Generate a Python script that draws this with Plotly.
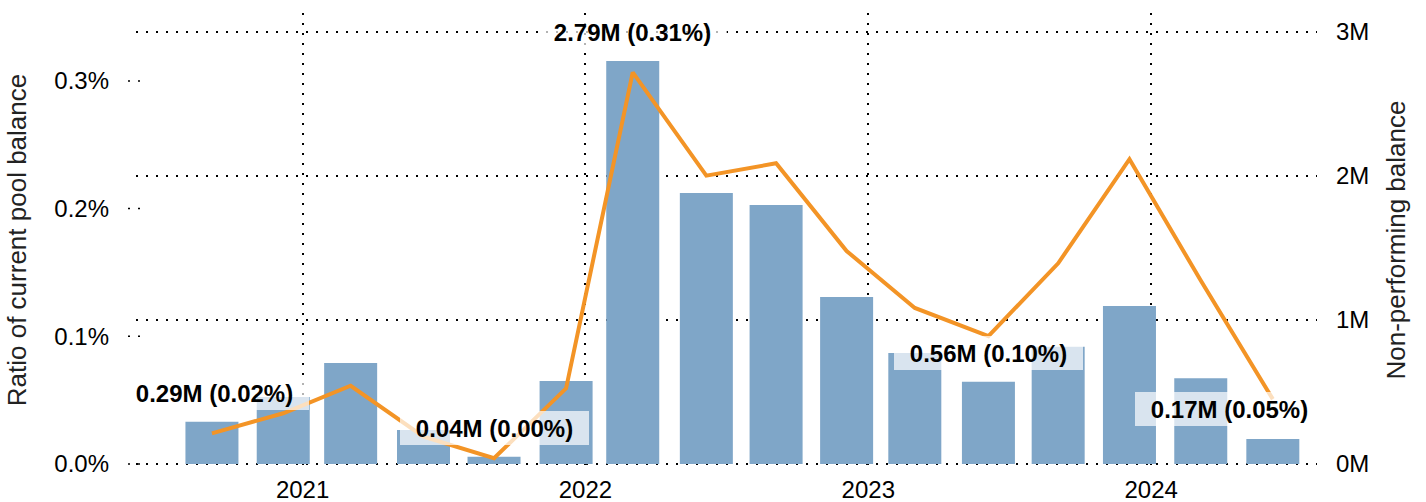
import plotly.graph_objects as go

# ---- data ----
dates = ["2020-09-06", "2020-12-07", "2021-03-04", "2021-06-06", "2021-09-05", "2021-12-07",
         "2022-03-03", "2022-06-06", "2022-09-04", "2022-12-04", "2023-03-02", "2023-06-05",
         "2023-09-03", "2023-12-04", "2024-03-05", "2024-06-06"]
ratio_pct = [0.0331, 0.0525, 0.0791, 0.0266, 0.0057, 0.0650,
             0.3156, 0.2122, 0.2028, 0.1308, 0.0870, 0.0645,
             0.0919, 0.1237, 0.0671, 0.0196]
np_balance_m = [0.213, 0.352, 0.543, 0.190, 0.040, 0.525,
                2.718, 2.001, 2.087, 1.478, 1.083, 0.888,
                1.393, 2.115, 1.273, 0.450]
label_dates = ["2020-09-06", "2021-09-05", "2022-03-03", "2023-06-05", "2024-06-06"]
label_texts = ["0.29M (0.02%)", "0.04M (0.00%)", "2.79M (0.31%)", "0.56M (0.10%)", "0.17M (0.05%)"]
left_ticks = [0.0, 0.1, 0.2, 0.3]
left_ticktext = ["0.0%", "0.1%", "0.2%", "0.3%"]
right_ticks = [0, 1, 2, 3]
right_ticktext = ["0M", "1M", "2M", "3M"]

# ---- styling / placement ----
label_y_pos = [0.493, 0.250, 3.0, 0.77, 0.382]
label_xshift = [2.5, 0, 0, 0, -43]
BAR_COLOR = "#7FA6C8"
LINE_COLOR = "#F39426"
FONT = "Liberation Sans, Arial, sans-serif"
DAY_MS = 86400000
DOT = "2px,8px"

fig = go.Figure()
fig.add_trace(go.Bar(
    x=dates, y=ratio_pct, marker=dict(color=BAR_COLOR, line=dict(width=0)),
    width=[68.4 * DAY_MS] * len(dates), yaxis="y", name="Ratio"))
fig.add_trace(go.Scatter(
    x=dates, y=np_balance_m, mode="lines", yaxis="y2",
    line=dict(color=LINE_COLOR, width=4), name="Non-performing balance"))

for d, t, yp, xs in zip(label_dates, label_texts, label_y_pos, label_xshift):
    fig.add_annotation(
        x=d, y=yp, xref="x", yref="y2", text="<b>%s</b>" % t, showarrow=False,
        xshift=xs, font=dict(family=FONT, size=24, color="black"),
        bgcolor="rgba(255,255,255,0.7)", borderpad=0, borderwidth=0,
        width=189, height=34, align="center", valign="middle")

# dotted tick stubs of the left axis
for v in left_ticks:
    fig.add_shape(type="line", xref="paper", yref="y", x0=-8 / 1181, x1=4 / 1181, y0=v, y1=v,
                  line=dict(color="black", width=1.5, dash=DOT), layer="below")

fig.update_layout(
    width=1426, height=502,
    margin=dict(l=136, r=109, t=13, b=35),
    paper_bgcolor="white", plot_bgcolor="white",
    showlegend=False, barmode="overlay",
    font=dict(family=FONT, size=24, color="black"),
    xaxis=dict(type="date", range=["2020-05-31", "2024-08-02"], tickformat="%Y",
               dtick="M12", tick0="2021-01-01", showgrid=True, gridcolor="black",
               gridwidth=1.5, griddash=DOT, zeroline=False, showline=False, ticks="",
               tickfont=dict(size=24, color="black"), automargin=False, ticklabelstandoff=6),
    yaxis=dict(range=[-0.00235, 0.3532], tickvals=left_ticks, ticktext=left_ticktext,
               showgrid=False, zeroline=False, showline=False, ticks="",
               tickfont=dict(size=24, color="black"), automargin=False, ticklabelstandoff=26,
               title=dict(text="Ratio of current pool balance", font=dict(size=26, color="#222"),
                          standoff=20)),
    yaxis2=dict(range=[-0.0208, 3.1298], tickvals=right_ticks, ticktext=right_ticktext,
                overlaying="y", side="right", showgrid=True, gridcolor="black",
                gridwidth=1.5, griddash=DOT, zeroline=False, showline=False, ticks="",
                tickfont=dict(size=24, color="black"), automargin=False, ticklabelstandoff=18,
                title=dict(text="Non-performing balance", font=dict(size=26, color="#222"),
                           standoff=18)),
)

fig.write_html("out.html", config={"displayModeBar": False},
               post_script="document.body.style.margin='0';")
